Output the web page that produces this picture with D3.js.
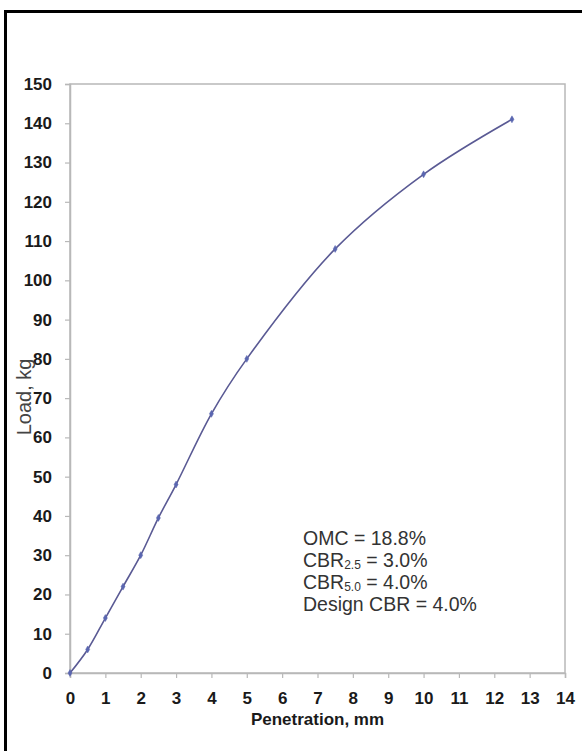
<!DOCTYPE html>
<html>
<head>
<meta charset="utf-8">
<script src="https://cdn.jsdelivr.net/npm/d3@7"></script>
<style>
  html, body { margin: 0; padding: 0; background: #ffffff; }
  svg { display: block; }
</style>
</head>
<body>
<svg id="chart" width="582" height="751"></svg>
<script>
// ---- data ----
const penetration = [0, 0.5, 1, 1.5, 2, 2.5, 3, 4, 5, 7.5, 10, 12.5];
const load = [0, 6, 14, 22, 30, 39.5, 48, 66, 80, 108, 127, 141];
const xTicks = [0,1,2,3,4,5,6,7,8,9,10,11,12,13,14];
const yTicks = [0,10,20,30,40,50,60,70,80,90,100,110,120,130,140,150];
const noteMain = ["OMC = 18.8%", "CBR", "CBR", "Design CBR = 4.0%"];
const noteSub = ["", "2.5", "5.0", ""];
const noteTail = ["", " = 3.0%", " = 4.0%", ""];
const xTitle = "Penetration, mm";
const yTitle = "Load, kg";

// ---- layout ----
const svg = d3.select("#chart");
const pLeft = 70, pRight = 565, pTop = 84, pBottom = 673;
const font = "Arial, 'Liberation Sans', Helvetica, sans-serif";

// outer frame
svg.append("rect").attr("x", 5.5).attr("y", 11.5).attr("width", 600).attr("height", 800)
  .attr("fill", "none").attr("stroke", "#000").attr("stroke-width", 3);

const x = d3.scaleLinear().domain([0, 14]).range([pLeft, pRight]);
const y = d3.scaleLinear().domain([0, 150]).range([pBottom, pTop]);

// plot area border
svg.append("rect").attr("x", pLeft).attr("y", pTop).attr("width", pRight - pLeft).attr("height", pBottom - pTop)
  .attr("fill", "#fff").attr("stroke", "#b8b8b8").attr("stroke-width", 1.5);

// axes
const xAxis = svg.append("g").attr("transform", `translate(0,${pBottom})`)
  .call(d3.axisBottom(x).tickValues(xTicks).tickFormat(d3.format("d")).tickSize(5).tickPadding(14));
const yAxis = svg.append("g").attr("transform", `translate(${pLeft},0)`)
  .call(d3.axisLeft(y).tickValues(yTicks).tickFormat(d3.format("d")).tickSize(5).tickPadding(13));
[xAxis, yAxis].forEach(g => {
  g.select(".domain").attr("stroke", "#b8b8b8").attr("stroke-width", 1.5);
  g.selectAll(".tick line").attr("stroke", "#b8b8b8").attr("stroke-width", 1.2);
  g.selectAll(".tick text").attr("fill", "#1a1a1a").attr("font-family", font)
    .attr("font-weight", "bold").attr("font-size", 17);
});

// axis titles
svg.append("text").attr("x", (pLeft + pRight) / 2).attr("y", 725).attr("text-anchor", "middle")
  .attr("font-family", font).attr("font-weight", "bold").attr("font-size", 17).attr("fill", "#1a1a1a")
  .text(xTitle);
svg.append("text").attr("transform", "translate(31,397) rotate(-90)").attr("text-anchor", "middle")
  .attr("font-family", font).attr("font-size", 20).attr("fill", "#444")
  .text(yTitle);

// line
const pts = penetration.map((p, i) => [p, load[i]]);
const line = d3.line().x(d => x(d[0])).y(d => y(d[1])).curve(d3.curveCatmullRom.alpha(0.5));
svg.append("path").datum(pts).attr("d", line).attr("fill", "none")
  .attr("stroke", "#5a5a94").attr("stroke-width", 1.6);

// markers (small diamonds)
svg.selectAll("path.mk").data(pts).enter().append("path").attr("class", "mk")
  .attr("d", d3.symbol().type(d3.symbolDiamond).size(14))
  .attr("transform", d => `translate(${x(d[0])},${y(d[1])})`)
  .attr("fill", "#5a66b0").attr("stroke", "#5a66b0").attr("stroke-width", 0.5);

// annotation
const note = svg.append("g").attr("font-family", font).attr("font-size", 19.5).attr("fill", "#333");
noteMain.forEach((t, i) => {
  const tx = note.append("text").attr("x", 303).attr("y", 545 + i * 22);
  tx.append("tspan").text(t);
  if (noteSub[i]) {
    tx.append("tspan").attr("font-size", 12).attr("dy", 2).text(noteSub[i]);
    tx.append("tspan").attr("dy", -2).text(noteTail[i]);
  }
});
</script>
</body>
</html>
